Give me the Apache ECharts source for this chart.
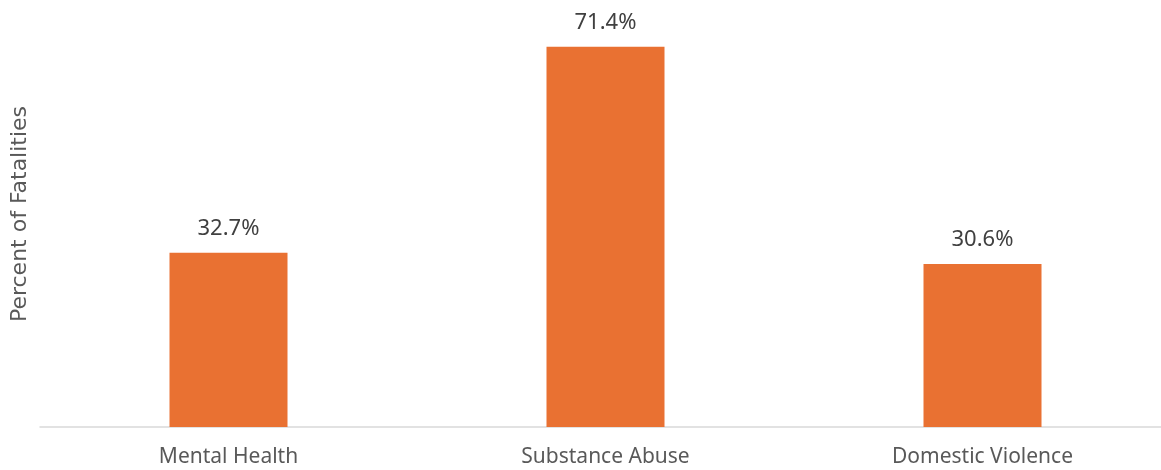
<!DOCTYPE html>
<html><head><meta charset="utf-8">
<script src="https://cdn.jsdelivr.net/npm/echarts@6/dist/echarts.min.js"></script>
<style>html,body{margin:0;padding:0;background:#fff}#c{width:1161px;height:470px}</style>
</head><body><div id="c"></div>
<script>
const categories = ["Mental Health", "Substance Abuse", "Domestic Violence"];
const values = [32.7, 71.4, 30.6];
const yAxisTitle = "Percent of Fatalities";

const chart = echarts.init(document.getElementById('c'));
const font = "'Noto Sans', sans-serif";
chart.setOption({
  animation: false,
  grid: { left: 40, top: 1, width: 1131, bottom: 43, containLabel: false, outerBoundsMode: 'none' },
  xAxis: {
    type: 'category', data: categories,
    axisLine: { lineStyle: { color: '#D9D9D9', width: 1.5 } },
    axisTick: { show: false },
    axisLabel: { color: '#595959', fontSize: 21, fontFamily: font, margin: 20 }
  },
  yAxis: {
    type: 'value', min: 0, max: 80,
    name: yAxisTitle, nameLocation: 'middle', nameGap: 9,
    nameTextStyle: { color: '#595959', fontSize: 22, fontFamily: "'DejaVu Sans', sans-serif" },
    axisLine: { show: false }, axisTick: { show: false },
    axisLabel: { show: false }, splitLine: { show: false }
  },
  series: [{
    type: 'bar', data: values, barWidth: 118,
    itemStyle: { color: '#E97132' },
    label: { show: true, position: 'top', distance: 13, color: '#404040', fontSize: 22, fontFamily: font,
      formatter: p => p.value.toFixed(1) + '%' }
  }]
});
</script></body></html>
